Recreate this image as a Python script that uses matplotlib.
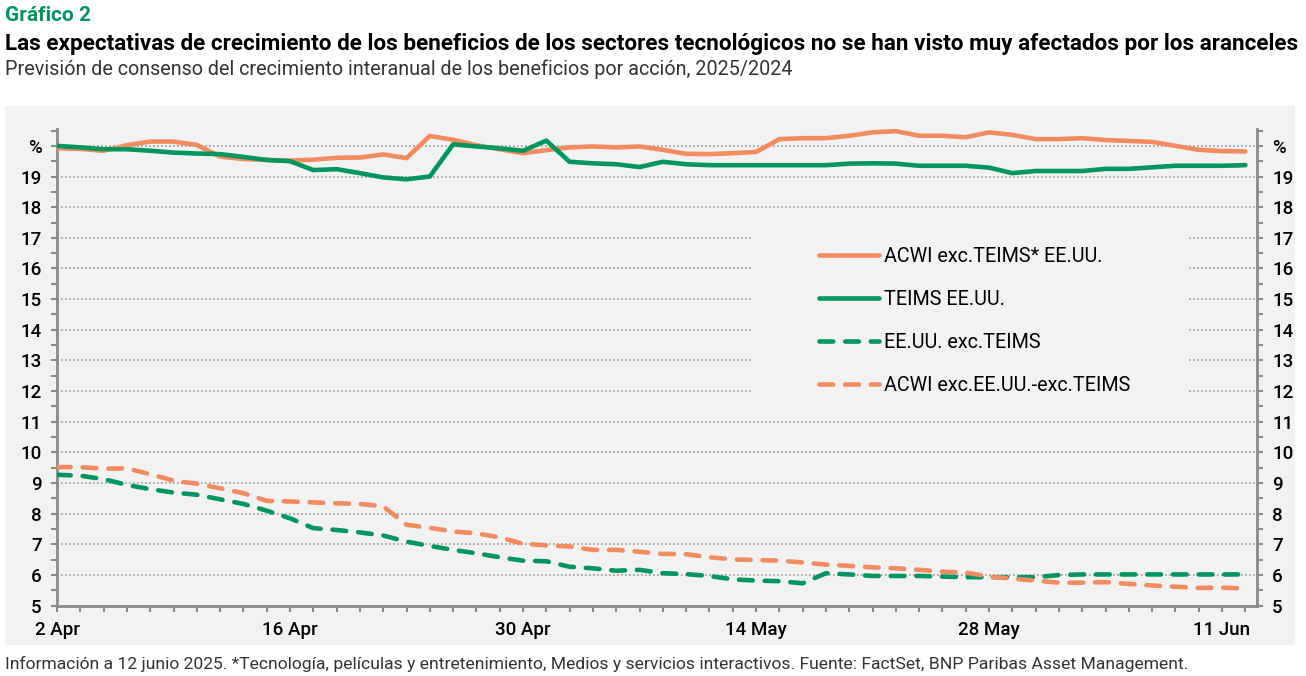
import matplotlib
matplotlib.use("Agg")
import matplotlib.pyplot as plt
import numpy as np
import pandas as pd
from matplotlib.patches import Rectangle

plt.rcParams['font.family'] = ['Roboto', 'DejaVu Sans']

# días hábiles del 2 abr al 12 jun 2025
fechas = pd.bdate_range("2025-04-02", "2025-06-12")
etiquetas_x = ["2 Apr", "16 Apr", "30 Apr", "14 May", "28 May", "11 Jun"]
pos_etiquetas = [0, 10, 20, 30, 40, 50]

acwi_exc_teims_eeuu = [19.92, 19.9, 19.84, 20.02, 20.14, 20.14, 20.03, 19.65, 19.57, 19.54,
                       19.52, 19.55, 19.61, 19.62, 19.72, 19.6, 20.32, 20.2, 20.02, 19.89,
                       19.76, 19.86, 19.95, 19.98, 19.95, 19.98, 19.87, 19.74, 19.73, 19.76,
                       19.8, 20.22, 20.25, 20.25, 20.33, 20.44, 20.48, 20.33, 20.33, 20.28,
                       20.44, 20.36, 20.22, 20.22, 20.25, 20.19, 20.16, 20.13, 20.0, 19.87,
                       19.83, 19.82]
teims_eeuu = [20.0, 19.95, 19.89, 19.89, 19.84, 19.78, 19.75, 19.73, 19.64, 19.54,
              19.5, 19.21, 19.24, 19.11, 18.97, 18.91, 19.0, 20.05, 19.98, 19.92,
              19.84, 20.17, 19.48, 19.43, 19.4, 19.31, 19.48, 19.4, 19.37, 19.37,
              19.37, 19.37, 19.37, 19.37, 19.42, 19.43, 19.42, 19.35, 19.35, 19.35,
              19.29, 19.11, 19.18, 19.18, 19.18, 19.25, 19.25, 19.3, 19.35, 19.35,
              19.35, 19.37]
eeuu_exc_teims = [9.27, 9.24, 9.13, 8.94, 8.8, 8.69, 8.62, 8.47, 8.32, 8.1,
                  7.85, 7.53, 7.47, 7.39, 7.29, 7.09, 6.95, 6.82, 6.71, 6.58,
                  6.47, 6.45, 6.27, 6.22, 6.14, 6.17, 6.06, 6.03, 5.97, 5.86,
                  5.82, 5.8, 5.73, 6.06, 6.02, 5.97, 5.97, 5.97, 5.95, 5.93,
                  5.93, 5.93, 5.93, 6.0, 6.02, 6.02, 6.02, 6.02, 6.02, 6.02,
                  6.02, 6.02]
acwi_exc_eeuu_exc_teims = [9.52, 9.52, 9.47, 9.48, 9.29, 9.08, 8.98, 8.83, 8.67, 8.42,
                           8.4, 8.37, 8.34, 8.32, 8.24, 7.64, 7.54, 7.42, 7.36, 7.23,
                           7.02, 6.97, 6.93, 6.82, 6.82, 6.76, 6.69, 6.68, 6.58, 6.51,
                           6.49, 6.47, 6.41, 6.34, 6.3, 6.25, 6.22, 6.17, 6.11, 6.08,
                           5.95, 5.88, 5.82, 5.75, 5.75, 5.77, 5.71, 5.66, 5.62, 5.58,
                           5.59, 5.56]

naranja = "#f28b5d"
verde = "#00965e"
gris = "#8a8a8a"

fig = plt.figure(figsize=(13.06, 6.76), dpi=100)
W, H = 1306, 676

# fondo gris del grafico
fig.patches.append(Rectangle((5 / W, 1 - 645 / H), 1290 / W, 539 / H,
                             transform=fig.transFigure, facecolor="#f2f2f2",
                             edgecolor="none", zorder=-10))

ax = fig.add_axes([57 / W, 1 - 605.7 / H, 1200 / W, (605.7 - 129) / H])
ax.set_facecolor("none")
ax.set_zorder(2)

x = np.arange(len(fechas))
ax.plot(x, acwi_exc_teims_eeuu, color=naranja, lw=3.3, solid_capstyle="round",
        label="ACWI exc.TEIMS* EE.UU.", zorder=5)
ax.plot(x, teims_eeuu, color=verde, lw=3.3, solid_capstyle="round",
        label="TEIMS EE.UU.", zorder=5)
ax.plot(x, eeuu_exc_teims, color=verde, lw=3.3, dashes=(3.0, 2.6), dash_capstyle="round",
        label="EE.UU. exc.TEIMS", zorder=5)
ax.plot(x, acwi_exc_eeuu_exc_teims, color=naranja, lw=3.3, dashes=(3.0, 2.6),
        dash_capstyle="round", label="ACWI exc.EE.UU.-exc.TEIMS", zorder=5)

ax.set_xlim(0, 51.5)
ax.set_ylim(5, 20.55)

yt = list(range(5, 21))
ax.set_yticks(yt)
ax.set_yticklabels([str(v) for v in yt[:-1]] + ["%"])
ax.set_yticks(np.arange(5.5, 20.6, 1.0), minor=True)
ax.set_xticks(pos_etiquetas)
ax.set_xticklabels(etiquetas_x)
ax.set_xticks(x, minor=True)

ax.grid(axis="y", which="major", color="#9a9a9a", lw=1.2, linestyle=(0, (1, 1.4)), zorder=1)
ax.spines["top"].set_visible(False)
for s in ["left", "right", "bottom"]:
    ax.spines[s].set_color(gris)
    ax.spines[s].set_linewidth(2)

ax.tick_params(axis="y", which="both", left=True, right=True, labelleft=True, labelright=True,
               length=4, width=1.5, color=gris, labelsize=13.5, pad=7)
ax.tick_params(axis="x", which="both", length=4, width=1.5, color=gris, labelsize=13.5, pad=7)
for lab in ax.get_xticklabels():
    lab.set_fontweight("medium")
for lab in ax.get_yticklabels():
    lab.set_fontweight("medium")

# caja de la leyenda que tapa la rejilla
ax.add_patch(Rectangle((29.83, 11.72), 18.7, 5.49, facecolor="#f2f2f2", edgecolor="none", zorder=2))
leg = ax.legend(loc="center left", bbox_to_anchor=(809 / W, 1 - 321 / H),
                bbox_transform=fig.transFigure, frameon=False, fontsize=14.2,
                handlelength=3.05, handletextpad=0.25, labelspacing=1.23, borderpad=0)

fig.text(5 / W, 1 - 21 / H, "Gráfico 2", color=verde, fontsize=15, fontweight="bold", va="baseline")
fig.text(5 / W, 1 - 50 / H,
         "Las expectativas de crecimiento de los beneficios de los sectores tecnológicos no se han visto muy afectados por los aranceles",
         color="black", fontsize=16.2, fontweight="bold", va="baseline")
fig.text(5 / W, 1 - 75 / H,
         "Previsión de consenso del crecimiento interanual de los beneficios por acción, 2025/2024",
         color="#333333", fontsize=14.2, fontweight="normal", va="baseline")
fig.text(5 / W, 1 - 669 / H,
         "Información a 12 junio 2025. *Tecnología, películas y entretenimiento, Medios y servicios interactivos. Fuente: FactSet, BNP Paribas Asset Management.",
         color="#333333", fontsize=12.6, fontweight="normal", va="baseline")

fig.savefig("out.png", dpi=100)
